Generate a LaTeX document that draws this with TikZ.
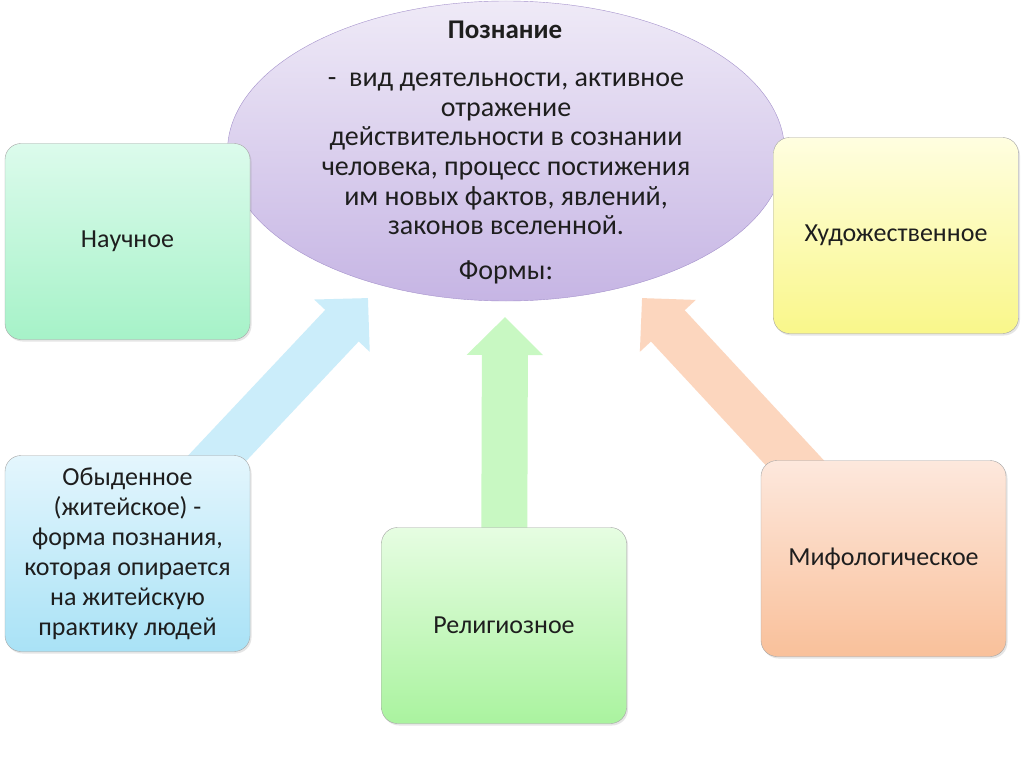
\documentclass[tikz,border=0pt]{standalone}
\usepackage{fontspec}
\setmainfont{Carlito}
\usetikzlibrary{arrows.meta,shadows,shapes.geometric}

\definecolor{inktext}{HTML}{1E1E1E}
\definecolor{lilactop}{HTML}{EFEAF7}
\definecolor{lilacbot}{HTML}{C6B5E4}
\definecolor{lilacline}{HTML}{A592CC}
\definecolor{scitop}{HTML}{DCFBEC}
\definecolor{scibot}{HTML}{A6F2C8}
\definecolor{arttop}{HTML}{FFFEE0}
\definecolor{artbot}{HTML}{F9F78A}
\definecolor{dailytop}{HTML}{E4F6FD}
\definecolor{dailybot}{HTML}{A9E2F6}
\definecolor{reltop}{HTML}{E6FDE2}
\definecolor{relbot}{HTML}{AAF39F}
\definecolor{mythtop}{HTML}{FDE8DD}
\definecolor{mythbot}{HTML}{F9C09A}
\definecolor{flowblue}{HTML}{CBEDFA}
\definecolor{flowgreen}{HTML}{C8F8C2}
\definecolor{floworange}{HTML}{FCD6BE}

\pgfdeclarelayer{back}
\pgfsetlayers{back,main}

\begin{document}
\begin{tikzpicture}[
        x=1pt, y=-1pt,
        font=\fontsize{26}{30}\selectfont,
        text=inktext,
        core/.style={
            ellipse, draw=lilacline, thin,
            top color=lilactop, bottom color=lilacbot,
            minimum width=557pt, minimum height=300pt,
            inner sep=0pt
        },
        coretext/.style={
            align=center, inner sep=0pt,
            font=\fontsize{28}{29.6}\selectfont
        },
        form/.style={
            rectangle, rounded corners=16pt, draw=black!35, thin,
            minimum width=245pt, minimum height=196pt,
            align=center, inner sep=4pt,
            drop shadow={opacity=0.2, shadow xshift=1.5pt, shadow yshift=-2pt}
        },
        flow/.style={
            line width=46pt,
            -{Triangle[length=38pt 0, width=74pt 0]}
        }
    ]

    \useasboundingbox (0,0) rectangle (1024,767);

    % Cognition in the middle
    \node[core] (cog) at (506,151) {};
    \node[coretext, font=\fontsize{27}{30}\selectfont\bfseries] (title)
        at (505,30) {Познание};
    \node[coretext] (def) at (506,154)
        {-~ вид деятельности, активное\\
         отражение\\
         действительности в сознании\\
         человека, процесс постижения\\
         им новых фактов, явлений,\\
         законов вселенной.};
    \node[coretext] (forms) at (506,272) {Формы:};

    % Arrow tips below the ellipse
    \coordinate (tipblue)   at (368,298);
    \coordinate (tipgreen)  at (505,317);
    \coordinate (tiporange) at (642,298);

    % Forms
    \node[form, top color=scitop, bottom color=scibot] (sci)
        at (127.5,241.5) {Научное};
    \node[form, top color=arttop, bottom color=artbot] (art)
        at (896,235.5) {Художественное};
    \node[form, top color=dailytop, bottom color=dailybot] (daily)
        at (127.5,553.5)
        {Обыденное\\(житейское) -\\форма познания,\\которая опирается\\на житейскую\\практику людей};
    \node[form, top color=reltop, bottom color=relbot] (rel)
        at (504,625.5) {Религиозное};
    \node[form, top color=mythtop, bottom color=mythbot] (myth)
        at (883.5,558.5) {Мифологическое};

    % Arrows from forms up to the ellipse, behind the boxes
    \begin{pgfonlayer}{back}
        \fill[white] (0,0) rectangle (1024,767);
        \draw[flow, flowblue]   (daily.center) -- (tipblue);
        \draw[flow, flowgreen]  (rel.center)   -- (tipgreen);
        \draw[flow, floworange] (myth.center)  -- (tiporange);
    \end{pgfonlayer}

\end{tikzpicture}
\end{document}
